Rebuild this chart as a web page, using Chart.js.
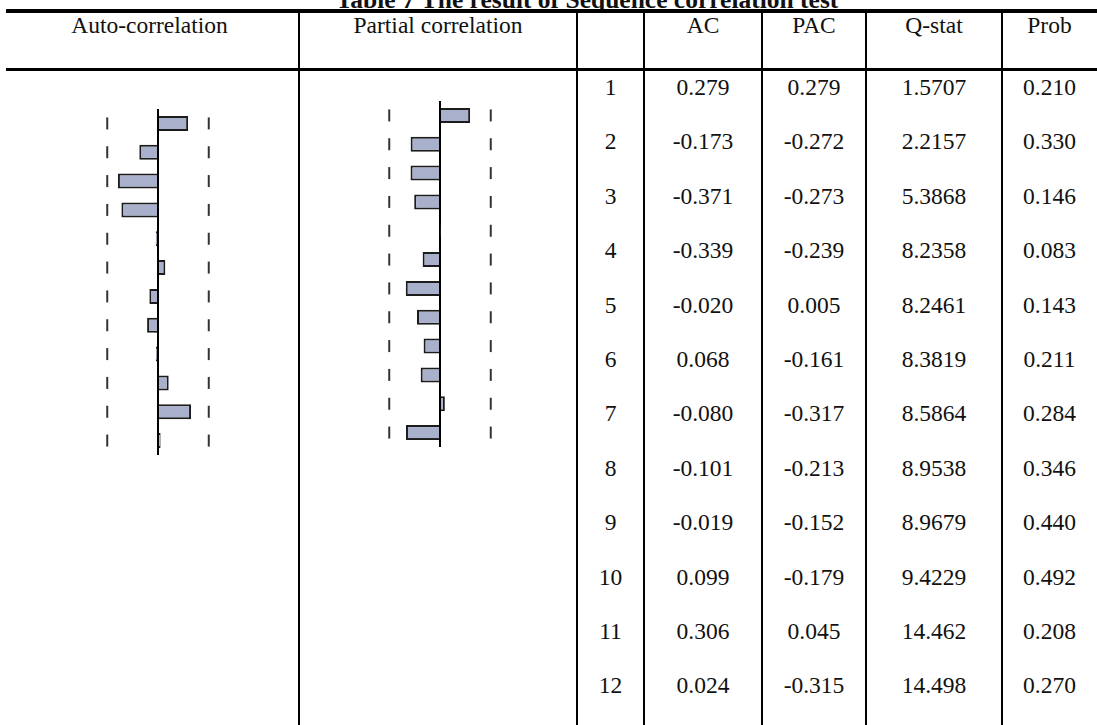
<!DOCTYPE html>
<html>
<head>
<meta charset="utf-8">
<script src="https://cdn.jsdelivr.net/npm/chart.js"></script>
<style>
  body { margin: 0; background: #fff; }
  #page { position: relative; width: 1097px; height: 725px; overflow: hidden;
          font-family: 'Liberation Serif', 'Times New Roman', serif; color: #111; }
  .cell { position: absolute; text-align: center; font-size: 23.5px; line-height: 30px; white-space: nowrap; }
  .title { position: absolute; left: 287px; width: 600px; top: -13.5px; text-align: center;
           font-weight: bold; font-size: 25.5px; line-height: 25.5px; white-space: nowrap; }
  .rule { position: absolute; background: #000; }
  canvas { position: absolute; }
</style>
</head>
<body>
<div id="page">
  <div class="title">Table 7 The result of Sequence correlation test</div>
  <canvas id="acChart" width="232" height="362" style="left:42px;top:101px"></canvas>
  <canvas id="pacChart" width="232" height="362" style="left:324px;top:93px"></canvas>
</div>
<script>
// table data
const headers = ['Auto-correlation', 'Partial correlation', '', 'AC', 'PAC', 'Q-stat', 'Prob'];
const lags = ['1', '2', '3', '4', '5', '6', '7', '8', '9', '10', '11', '12'];
const acValues = [0.279, -0.173, -0.371, -0.339, -0.020, 0.068, -0.080, -0.101, -0.019, 0.099, 0.306, 0.024];
const pacValues = [0.279, -0.272, -0.273, -0.239, 0.005, -0.161, -0.317, -0.213, -0.152, -0.179, 0.045, -0.315];
const qStat = [1.5707, 2.2157, 5.3868, 8.2358, 8.2461, 8.3819, 8.5864, 8.9538, 8.9679, 9.4229, 14.462, 14.498];
const probValues = [0.210, 0.330, 0.146, 0.083, 0.143, 0.211, 0.284, 0.346, 0.440, 0.492, 0.208, 0.270];
// dashed confidence bounds (+-2/sqrt(n))
const bandUpper = [0.47, 0.47, 0.47, 0.47, 0.47, 0.47, 0.47, 0.47, 0.47, 0.47, 0.47, 0.47];
const bandLower = [-0.47, -0.47, -0.47, -0.47, -0.47, -0.47, -0.47, -0.47, -0.47, -0.47, -0.47, -0.47];

const page = document.getElementById('page');
const colEdges = [0, 299, 577, 644, 762, 866, 1002, 1097];

function addRule(left, top, width, height) {
    let d = document.createElement('div');
    d.className = 'rule';
    d.style.cssText = 'left:' + left + 'px;top:' + top + 'px;width:' + width + 'px;height:' + height + 'px';
    page.appendChild(d);
}

function addCell(col, top, text) {
    let d = document.createElement('div');
    d.className = 'cell';
    d.style.left = colEdges[col] + 'px';
    d.style.width = (colEdges[col + 1] - colEdges[col]) + 'px';
    d.style.top = top + 'px';
    d.textContent = text;
    page.appendChild(d);
}

// lines of the table
addRule(6, 9, 1091, 4);
addRule(6, 68, 1091, 3);
for (let i = 1; i < colEdges.length - 1; i++) {
    addRule(colEdges[i] - 1, 13, 2, 712);
}

headers.forEach((h, c) => addCell(c, 10, h));

for (let i = 0; i < lags.length; i++) {
    let top = 72 + i * 54.4;
    addCell(2, top, lags[i]);
    addCell(3, top, acValues[i].toFixed(3));
    addCell(4, top, pacValues[i].toFixed(3));
    addCell(5, top, qStat[i].toPrecision(5));
    addCell(6, top, probValues[i].toFixed(3));
}

// correlogram bars
function makeCorrChart(id, values) {
    const dash = {
        type: 'line', indexAxis: 'y', showLine: false,
        pointStyle: 'line', pointRotation: 90, pointRadius: 6, pointHoverRadius: 6,
        borderColor: '#333', pointBorderColor: '#333', pointBorderWidth: 2, borderWidth: 2
    };
    return new Chart(document.getElementById(id), {
        type: 'bar',
        data: {
            labels: lags,
            datasets: [
                {
                    data: values,
                    backgroundColor: '#a8b0cc',
                    borderColor: '#1c1c1c',
                    borderWidth: 2,
                    barPercentage: 0.52,
                    categoryPercentage: 1
                },
                Object.assign({ data: bandUpper }, dash),
                Object.assign({ data: bandLower }, dash)
            ]
        },
        options: {
            indexAxis: 'y',
            responsive: false,
            animation: false,
            events: [],
            layout: { padding: 0 },
            plugins: { legend: { display: false }, tooltip: { enabled: false } },
            scales: {
                x: {
                    type: 'linear', min: -1, max: 1, z: 1,
                    ticks: { display: false, stepSize: 0.5 },
                    grid: {
                        drawTicks: false, lineWidth: 2,
                        color: ctx => (ctx.tick && ctx.tick.value === 0) ? '#000' : 'rgba(0,0,0,0)'
                    },
                    border: { display: false }
                },
                y: { type: 'category', display: false, offset: true }
            }
        }
    });
}

makeCorrChart('acChart', acValues);
makeCorrChart('pacChart', pacValues);
</script>
</body>
</html>
